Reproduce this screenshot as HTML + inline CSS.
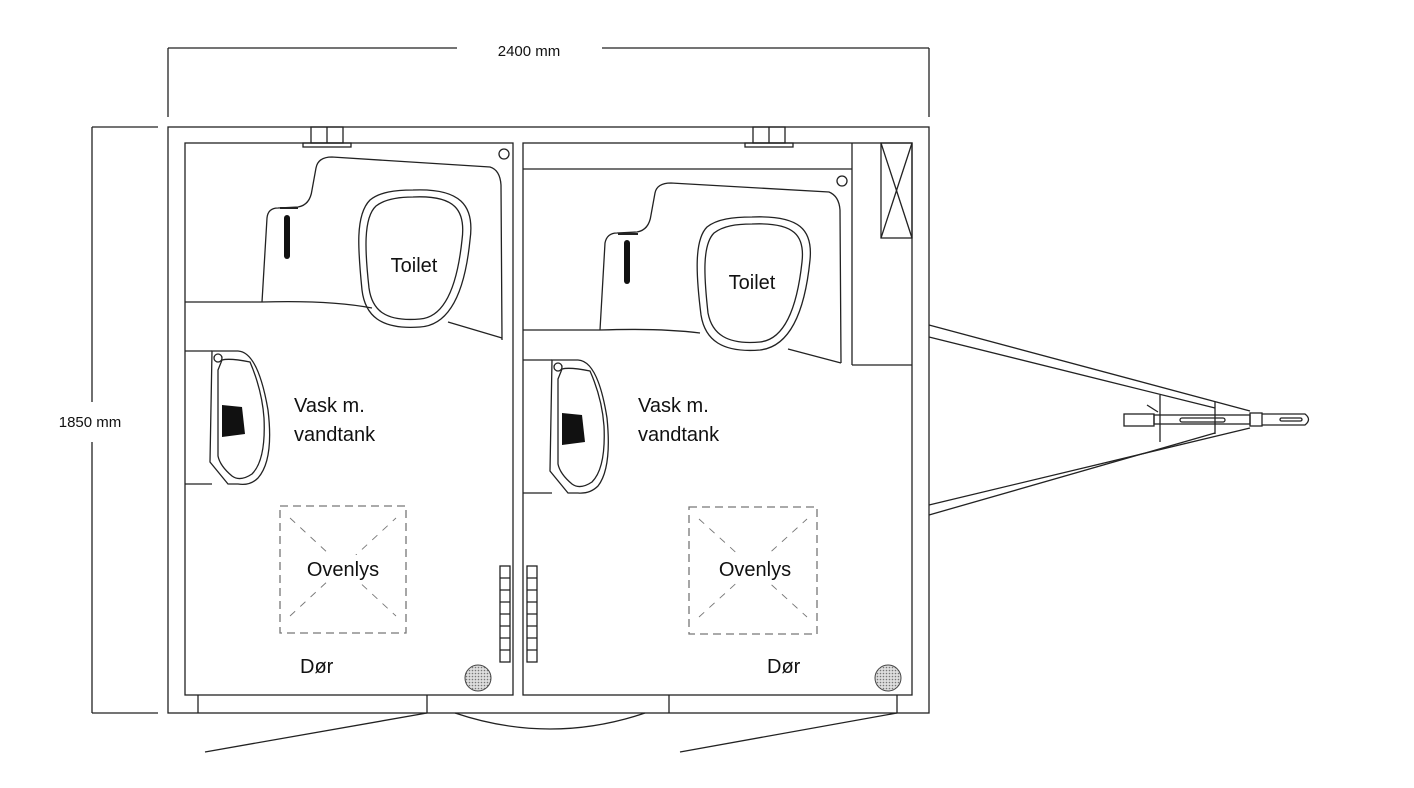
<!DOCTYPE html>
<html><head><meta charset="utf-8"><style>
html,body{margin:0;padding:0;background:#fff;}
svg{display:block}
text{font-family:"Liberation Sans",sans-serif;fill:#111}
</style></head><body>
<svg width="1414" height="788" viewBox="0 0 1414 788" xmlns="http://www.w3.org/2000/svg">
<defs>
<pattern id="dots" width="3" height="3" patternUnits="userSpaceOnUse"><rect width="3" height="3" fill="#ddd"/><circle cx="1.5" cy="1.5" r="0.8" fill="#777"/></pattern>
</defs>
<g fill="none" stroke="#222" stroke-width="1.3">
<!-- dimensions -->
<line x1="168" y1="48" x2="457" y2="48"/><line x1="602" y1="48" x2="929" y2="48"/>
<line x1="168" y1="48" x2="168" y2="117"/><line x1="929" y1="48" x2="929" y2="117"/>
<line x1="92" y1="127" x2="158" y2="127"/><line x1="92" y1="713" x2="158" y2="713"/>
<line x1="92" y1="127" x2="92" y2="402"/><line x1="92" y1="442" x2="92" y2="713"/>
<!-- outer -->
<rect x="168" y="127" width="761" height="586"/>
<rect x="185" y="143" width="328" height="552"/>
<rect x="523" y="143" width="389" height="552"/>
<!-- bottom door strip -->
<line x1="198" y1="695" x2="198" y2="713"/><line x1="427" y1="695" x2="427" y2="713"/>
<line x1="669" y1="695" x2="669" y2="713"/><line x1="897" y1="695" x2="897" y2="713"/>
<line x1="427" y1="713" x2="205" y2="752"/><line x1="897" y1="713" x2="680" y2="752"/>
<path d="M455 713 Q550 745 645 713"/>
<!-- top pipes -->
<rect x="303" y="143" width="48" height="4"/><rect x="311" y="127" width="32" height="16"/><line x1="327" y1="127" x2="327" y2="143"/>
<rect x="745" y="143" width="48" height="4"/><rect x="753" y="127" width="32" height="16"/><line x1="769" y1="127" x2="769" y2="143"/>
<!-- left toilet counter -->
<path d="M262 302 L267 218 Q268 208 278 208 L298 207 Q310 205 312 190 L316 168 Q318 157 332 157 L490 167 Q500 170 501 185 L502 340"/>
<path d="M185 302 L262 302 Q330 300 372 308"/>
<path d="M448 322 L502 338"/>
<path d="M413 190 C460 188 475 205 470 240 C466 280 455 325 420 327 C380 330 365 315 362 290 C358 250 355 215 370 200 C380 192 395 190 413 190 Z"/>
<path d="M413 197 C455 195 466 210 462 240 C458 278 448 317 420 319 C385 322 372 310 369 288 C365 252 363 218 376 206 C385 199 398 197 413 197 Z"/>
<circle cx="504" cy="154" r="5"/>
<!-- right room extras -->
<line x1="523" y1="169" x2="852" y2="169"/>
<line x1="852" y1="143" x2="852" y2="365"/><line x1="852" y1="365" x2="912" y2="365"/>
<rect x="881" y="143" width="31" height="95"/><line x1="881" y1="143" x2="912" y2="238"/><line x1="912" y1="143" x2="881" y2="238"/>
<path d="M600 330 L605 243 Q607 233 617 233 L637 232 Q649 230 651 215 L655 193 Q657 183 671 183 L829 192 Q839 196 840 210 L841 363"/>
<path d="M523 330 L600 330 Q660 328 700 333"/>
<path d="M788 349 L841 363"/>
<path d="M752 217 C800 215 813 230 810 260 C806 300 795 346 760 350 C722 353 705 340 701 315 C696 275 694 240 707 227 C717 219 733 217 752 217 Z"/>
<path d="M752 224 C795 222 805 236 802 262 C798 299 788 339 760 342 C727 345 712 334 708 313 C704 277 702 245 714 233 C723 226 736 224 752 224 Z"/>
<circle cx="842" cy="181" r="5"/>
<!-- sinks -->
<line x1="185" y1="351" x2="212" y2="351"/><line x1="185" y1="484" x2="212" y2="484"/>
<path d="M212 351 L238 351 Q258 352 268 410 Q274 460 258 478 Q250 486 238 484 L228 484 L210 462 Z"/>
<path d="M222 360 Q230 358 250 362 Q262 390 264 418 Q266 460 252 474 Q240 482 232 476 Q220 466 218 456 L218 370 Z"/>
<circle cx="218" cy="358" r="4"/>
<line x1="523" y1="360" x2="552" y2="360"/><line x1="523" y1="493" x2="552" y2="493"/>
<path d="M552 360 L578 360 Q598 361 607 418 Q612 468 598 486 Q590 494 578 493 L568 493 L550 471 Z"/>
<path d="M562 369 Q570 367 590 371 Q602 398 604 426 Q606 468 592 482 Q580 490 572 484 Q560 474 558 464 L558 379 Z"/>
<circle cx="558" cy="367" r="4"/>
<!-- handle grids -->
<rect x="500" y="566" width="10" height="96"/><rect x="527" y="566" width="10" height="96"/>
<path d="M500 578h10M500 590h10M500 602h10M500 614h10M500 626h10M500 638h10M500 650h10M527 578h10M527 590h10M527 602h10M527 614h10M527 626h10M527 638h10M527 650h10"/>
<!-- hitch -->
<line x1="929" y1="325" x2="1250" y2="411"/><line x1="929" y1="337" x2="1215" y2="408"/>
<line x1="929" y1="505" x2="1250" y2="428"/><line x1="929" y1="515" x2="1215" y2="433"/>
<line x1="1160" y1="395" x2="1160" y2="442"/><line x1="1215" y1="402" x2="1215" y2="434"/>
<rect x="1124" y="414" width="30" height="12"/><rect x="1154" y="415" width="96" height="9"/>
<rect x="1180" y="418" width="45" height="4" rx="2"/>
<rect x="1250" y="413" width="12" height="13"/>
<path d="M1262 414 L1305 414 Q1312 419.5 1305 425 L1262 425"/>
<rect x="1280" y="418" width="22" height="3" rx="1.5"/>
<line x1="1147" y1="405" x2="1158" y2="412"/>
</g>
<!-- black filled bits -->
<g fill="#111">
<rect x="284" y="215" width="6" height="44" rx="3"/>
<rect x="624" y="240" width="6" height="44" rx="3"/>
<path d="M222 405 L242 407 L245 434 L222 437 Z"/>
<path d="M562 413 L582 415 L585 442 L562 445 Z"/>
</g>
<line x1="280" y1="208" x2="298" y2="208" stroke="#222" stroke-width="2"/>
<line x1="618" y1="234" x2="638" y2="234" stroke="#222" stroke-width="2"/>
<!-- skylights -->
<g fill="none" stroke="#777" stroke-width="1.3" stroke-dasharray="8 5">
<rect x="280" y="506" width="126" height="127"/>
<rect x="689" y="507" width="128" height="127"/>
<path d="M290 616 L396 518 M290 518 L396 616 M699 617 L807 519 M699 519 L807 617" stroke-width="0.9" stroke-dasharray="7 7"/>
</g>
<circle cx="478" cy="678" r="13" fill="url(#dots)" stroke="#444"/>
<circle cx="888" cy="678" r="13" fill="url(#dots)" stroke="#444"/>
<!-- labels -->
<rect x="295" y="555" width="96" height="26" fill="#fff"/>
<rect x="705" y="555" width="96" height="26" fill="#fff"/>
<g font-size="20">
<text x="414" y="272" text-anchor="middle">Toilet</text>
<text x="752" y="289" text-anchor="middle">Toilet</text>
<text x="294" y="412">Vask m.</text><text x="294" y="441">vandtank</text>
<text x="638" y="412">Vask m.</text><text x="638" y="441">vandtank</text>
<text x="343" y="576" text-anchor="middle">Ovenlys</text>
<text x="755" y="576" text-anchor="middle">Ovenlys</text>
<text x="300" y="673">Dør</text>
<text x="767" y="673">Dør</text>
</g>
<g font-size="15">
<text x="529" y="56" text-anchor="middle">2400 mm</text>
<text x="90" y="427" text-anchor="middle">1850 mm</text>
</g>
</svg>
</body></html>
